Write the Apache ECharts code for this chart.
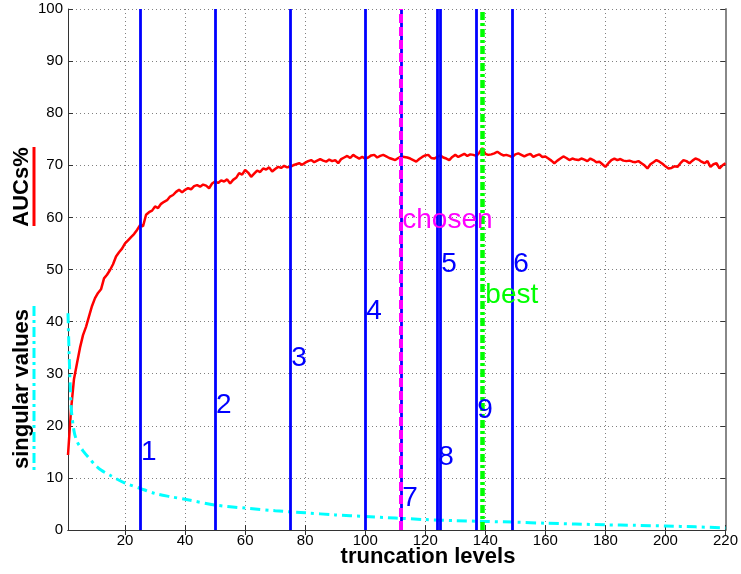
<!DOCTYPE html>
<html>
<head>
<meta charset="utf-8">
<script src="https://cdn.jsdelivr.net/npm/echarts@6/dist/echarts.min.js"></script>
<style>
  html, body { margin: 0; padding: 0; background: #fff; }
  #chart { width: 741px; height: 574px; }
</style>
</head>
<body>
<div id="chart"></div>
<script>
// AUC (%) for each truncation level 1..220
const aucs = [
  14.4, 23.0, 29.0, 32.0, 35.0, 37.4, 39.0, 41.0, 43.0, 44.5,
  45.5, 46.2, 48.3, 49.0, 49.9, 51.0, 52.5, 53.3, 54.0, 55.0,
  55.6, 56.2, 56.8, 57.6, 58.5, 58.3, 60.5, 61.0, 61.3, 62.1,
  61.8, 62.6, 63.0, 63.3, 64.0, 64.3, 64.9, 65.3, 64.8, 65.3,
  65.6, 65.4, 66.0, 66.2, 65.9, 66.3, 66.1, 65.6, 66.5, 66.9,
  66.6, 67.1, 66.9, 67.3, 66.5, 67.2, 67.6, 68.5, 68.2, 69.1,
  68.6, 67.8, 68.4, 69.0, 68.7, 69.4, 69.2, 69.6, 68.8, 69.3,
  69.7, 69.5, 69.9, 69.6, 69.7, 70.0, 70.2, 70.4, 70.1, 70.5,
  70.8, 71.0, 70.6, 70.9, 71.2, 70.9, 70.7, 71.1, 70.8, 71.0,
  70.4, 71.2, 71.5, 71.8, 71.4, 72.0, 71.6, 71.3, 71.6, 71.3,
  71.5, 71.9, 72.0, 71.5, 71.8, 72.0, 71.7, 71.4, 71.2, 71.0,
  71.4, 71.7, 71.6, 71.5, 71.3, 71.0, 70.7, 71.2, 71.6, 71.9,
  72.0, 71.4, 71.3, 71.6, 71.9, 71.5, 71.3, 71.0, 71.6, 72.0,
  71.6, 71.9, 72.2, 71.8, 72.1, 72.0, 71.8, 72.4, 73.3, 72.2,
  72.0, 72.1, 72.3, 72.6, 72.2, 71.9, 72.0, 71.8, 71.6, 72.1,
  72.3, 72.0, 71.7, 72.0, 72.2, 71.6, 71.9, 72.1, 71.6, 71.7,
  71.3, 70.9, 70.4, 70.9, 71.3, 71.7, 71.4, 71.0, 71.3, 71.1,
  71.0, 71.3, 71.1, 70.8, 71.3, 71.0, 70.6, 70.7, 70.2, 69.7,
  70.4, 71.0, 71.3, 71.0, 71.2, 70.9, 70.8, 70.9, 70.7, 70.6,
  70.8, 70.4, 70.0, 69.4, 70.2, 70.6, 71.0, 70.7, 70.3, 69.8,
  69.4, 69.5, 69.8, 69.7, 70.4, 71.0, 70.8, 70.4, 70.9, 71.3,
  71.1, 70.7, 70.4, 70.8, 69.7, 70.2, 70.4, 69.4, 70.0, 70.4
];

// singular values, sampled at these truncation levels
const svLevels = [1, 2, 3, 4, 5, 6, 8, 10, 12, 15, 20, 25, 30, 35, 40, 50, 60, 70, 80, 90,
                  100, 110, 120, 130, 140, 150, 160, 170, 180, 190, 200, 210, 220];
const svValues = [41.6, 24.0, 19.0, 17.0, 16.0, 15.2, 13.8, 12.5, 11.5, 10.5, 9.0, 8.0, 7.0, 6.4, 5.9, 4.8, 4.2, 3.7, 3.3, 2.9,
                  2.6, 2.3, 2.0, 1.8, 1.65, 1.5, 1.3, 1.15, 1.0, 0.9, 0.77, 0.6, 0.4];

// numbered candidate levels and where their numbers sit
const markNames  = ['1', '2', '3', '4', '5', '6', '7', '8', '9'];
const markLevels = [25, 50, 75, 100, 125, 149, 112, 124, 137];
const markLabelY = [15, 24, 33, 42, 51, 51, 6, 14, 23];

const chosenLevel = 112;
const chosenLabelY = 59.5;
const bestLevel = 139;
const bestLabelY = 45;

const xTicks = [20, 40, 60, 80, 100, 120, 140, 160, 180, 200, 220];

const FONT = 'Liberation Sans, Arial, sans-serif';

const chart = echarts.init(document.getElementById('chart'), null, { renderer: 'canvas' });

const aucData = aucs.map((v, i) => [i + 1, v]);
const svData = svLevels.map((x, i) => [x, svValues[i]]);

function vline(x) {
  return [{ xAxis: x, yAxis: 0 }, { xAxis: x, yAxis: 100 }];
}

const gridLine = { show: true, lineStyle: { color: '#808080', width: 1, type: [1, 3] } };
const axisLineStyle = { show: true, lineStyle: { color: '#333', width: 1 } };

function textSeries(name, data, color, distance) {
  return {
    name: name, type: 'scatter', symbolSize: 0, z: 6,
    itemStyle: { opacity: 1 },
    data: data,
    label: { show: true, position: 'right', distance: distance, formatter: p => p.name,
             color: color, opacity: 1, fontSize: 28, fontFamily: FONT }
  };
}

const option = {
  animation: false,
  backgroundColor: '#fff',
  grid: { left: 68, right: 14, top: 9, bottom: 44, containLabel: false },
  xAxis: [
    {
      type: 'value', min: 1, max: 220, position: 'bottom',
      axisLine: axisLineStyle,
      axisTick: { show: true, inside: true, length: 5, customValues: xTicks, lineStyle: { color: '#333' } },
      axisLabel: { customValues: xTicks, color: '#000', fontSize: 15, fontFamily: FONT, margin: 3 },
      splitLine: gridLine
    },
    {
      type: 'value', min: 1, max: 220, position: 'top',
      axisLine: axisLineStyle,
      axisTick: { show: true, inside: true, length: 5, customValues: xTicks, lineStyle: { color: '#333' } },
      axisLabel: { show: false },
      splitLine: { show: false }
    }
  ],
  yAxis: [
    {
      type: 'value', min: 0, max: 100, interval: 10, position: 'left',
      axisLine: axisLineStyle,
      axisTick: { show: true, inside: true, length: 5, lineStyle: { color: '#333' } },
      axisLabel: { color: '#000', fontSize: 15, fontFamily: FONT, margin: 5 },
      splitLine: gridLine
    },
    {
      type: 'value', min: 0, max: 100, interval: 10, position: 'right',
      axisLine: { show: true, lineStyle: { color: '#888', width: 2 } },
      axisTick: { show: true, inside: true, length: 5, lineStyle: { color: '#333' } },
      axisLabel: { show: false },
      splitLine: { show: false }
    }
  ],
  graphic: [
    { type: 'text', x: 428, y: 557,
      style: { text: 'truncation levels', font: 'bold 22px ' + FONT, fill: '#000', align: 'center', verticalAlign: 'middle' } },
    { type: 'text', x: 22, y: 187, rotation: Math.PI / 2,
      style: { text: 'AUCs%', font: 'bold 22px ' + FONT, fill: '#000', align: 'center', verticalAlign: 'middle' } },
    { type: 'text', x: 22, y: 389, rotation: Math.PI / 2,
      style: { text: 'singular values', font: 'bold 22px ' + FONT, fill: '#000', align: 'center', verticalAlign: 'middle' } },
    { type: 'line', shape: { x1: 34, y1: 147, x2: 34, y2: 226 },
      style: { stroke: '#ff0000', lineWidth: 3 } },
    { type: 'line', shape: { x1: 34, y1: 306, x2: 34, y2: 472 },
      style: { stroke: '#00ffff', lineWidth: 3, lineDash: [10, 4, 3, 4] } }
  ],
  series: [
    {
      name: 'AUC', type: 'line', data: aucData, showSymbol: false, z: 2,
      lineStyle: { color: '#ff0000', width: 2.5 }
    },
    {
      name: 'singular values', type: 'line', data: svData, showSymbol: false, smooth: 0.3, z: 2,
      lineStyle: { color: '#00ffff', width: 3, type: [10, 5, 3, 5] }
    },
    {
      name: 'levels', type: 'line', data: [], z: 3,
      markLine: {
        silent: true, symbol: ['none', 'none'], label: { show: false },
        lineStyle: { color: '#0000ff', width: 2.8, type: 'solid' },
        data: markLevels.map(vline)
      }
    },
    {
      name: 'chosen', type: 'line', data: [], z: 4,
      markLine: {
        silent: true, symbol: ['none', 'none'], label: { show: false },
        lineStyle: { color: '#ff00ff', width: 4, type: [9, 4] },
        data: [vline(chosenLevel)]
      }
    },
    {
      name: 'best', type: 'line', data: [], z: 4,
      markLine: {
        silent: true, symbol: ['none', 'none'], label: { show: false },
        lineStyle: { color: '#00ff00', width: 4.5, type: [8, 3, 3, 3] },
        data: [vline(bestLevel)]
      }
    },
    textSeries('numbers',
      markLevels.map((x, i) => ({ value: [x, markLabelY[i]], name: markNames[i] })), '#0000ff', 1),
    textSeries('chosenText', [{ value: [chosenLevel, chosenLabelY], name: 'chosen' }], '#ff00ff', 1),
    textSeries('bestText', [{ value: [bestLevel, bestLabelY], name: 'best' }], '#00ff00', 3)
  ]
};

chart.setOption(option);
</script>
</body>
</html>
